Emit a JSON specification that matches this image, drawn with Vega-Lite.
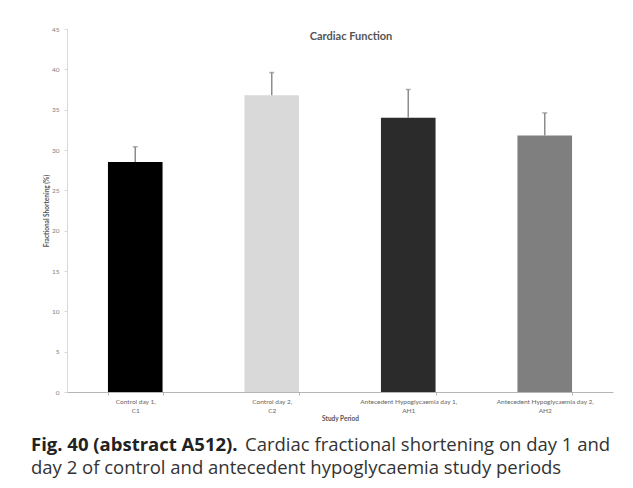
{
  "$schema": "https://vega.github.io/schema/vega-lite/v6.json",
  "background": "white",
  "padding": {"left": 31, "top": 26, "right": 5, "bottom": 5},
  "bounds": "flush",
  "spacing": 41,
  "config": {"view": {"stroke": null}, "font": "Lato"},
  "vconcat": [
    {
      "width": 546,
      "height": 363,
      "title": {"text": "Cardiac Function", "font": "Lato", "fontSize": 11, "fontWeight": "bold", "color": "#555555", "anchor": "middle", "dx": 11, "dy": 20},
      "data": {"values": [
        {"period": "Control day 1, C1", "fs": 28.5, "upper": 30.4},
        {"period": "Control day 2, C2", "fs": 36.8, "upper": 39.6},
        {"period": "Antecedent Hypoglycaemia day 1, AH1", "fs": 34.0, "upper": 37.5},
        {"period": "Antecedent Hypoglycaemia day 2, AH2", "fs": 31.8, "upper": 34.6}
      ]},
      "encoding": {
        "x": {
          "field": "period", "type": "nominal", "sort": null,
          "scale": {"paddingInner": 0.6, "paddingOuter": 0.3},
          "axis": {
            "title": "Study Period", "titleFontSize": 6.5, "titleFontWeight": "bold", "titleColor": "#555555", "titlePadding": 2,
            "labelAngle": 0, "labelFontSize": 6.5, "labelColor": "#666666", "labelPadding": 3, "labelLineHeight": 9,
            "labelExpr": "[slice(datum.label, 0, indexof(datum.label, ',') + 1), slice(datum.label, indexof(datum.label, ',') + 2)]",
            "domainColor": "#b5b5b5", "tickColor": "#b5b5b5", "tickSize": 3, "tickBand": "extent"
          }
        }
      },
      "layer": [
        {
          "mark": {"type": "bar"},
          "encoding": {
            "y": {
              "field": "fs", "type": "quantitative",
              "scale": {"domain": [0, 45]},
              "axis": {
                "title": "Fractional Shortening (%)", "titleFontSize": 6.5, "titleFontWeight": "bold", "titleColor": "#555555", "titlePadding": 2,
                "values": [0, 5, 10, 15, 20, 25, 30, 35, 40, 45],
                "labelFontSize": 6.5, "labelColor": "#808080", "labelPadding": 5,
                "grid": false, "domainColor": "#d9d9d9", "tickColor": "#d9d9d9", "tickSize": 3
              }
            },
            "color": {
              "field": "period", "type": "nominal", "sort": null,
              "scale": {"range": ["#000000", "#d9d9d9", "#2b2b2b", "#7f7f7f"]},
              "legend": null
            }
          }
        },
        {
          "mark": {"type": "rule", "color": "#8c8c8c", "strokeWidth": 1.5},
          "encoding": {
            "y": {"field": "fs", "type": "quantitative"},
            "y2": {"field": "upper"}
          }
        },
        {
          "mark": {"type": "tick", "orient": "horizontal", "color": "#8c8c8c", "size": 5, "thickness": 1.5},
          "encoding": {
            "y": {"field": "upper", "type": "quantitative"}
          }
        }
      ]
    },
    {
      "width": 546,
      "height": 46,
      "data": {"values": [
        {"seg": "bold1", "line": 1, "text": "Fig. 40 (abstract A512)."},
        {"seg": "reg1", "line": 1, "text": "Cardiac fractional shortening on day 1 and"},
        {"seg": "reg2", "line": 2, "text": "day 2 of control and antecedent hypoglycaemia study periods"}
      ]},
      "encoding": {
        "y": {"field": "line", "type": "ordinal", "axis": null},
        "text": {"field": "text"}
      },
      "layer": [
        {
          "transform": [{"filter": "datum.seg === 'bold1'"}],
          "mark": {"type": "text", "align": "left", "baseline": "middle", "x": -36, "font": "Open Sans", "fontSize": 18.5, "fontWeight": "bold", "color": "#222222"}
        },
        {
          "transform": [{"filter": "datum.seg === 'reg1'"}],
          "mark": {"type": "text", "align": "left", "baseline": "middle", "x": 178, "font": "Open Sans", "fontSize": 18.5, "color": "#333333"}
        },
        {
          "transform": [{"filter": "datum.seg === 'reg2'"}],
          "mark": {"type": "text", "align": "left", "baseline": "middle", "x": -36, "font": "Open Sans", "fontSize": 18.5, "color": "#333333"}
        }
      ]
    }
  ]
}
